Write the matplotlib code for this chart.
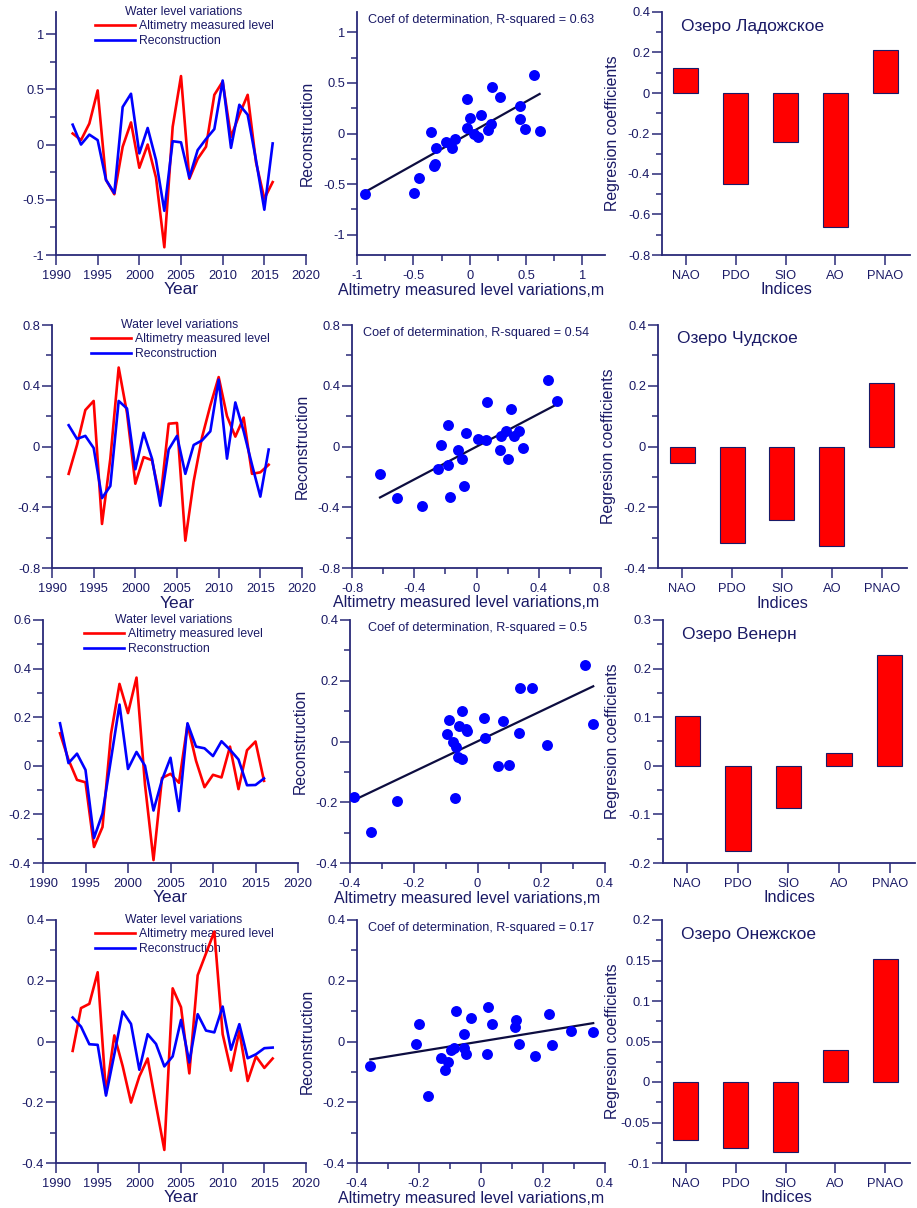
import matplotlib
matplotlib.use('Agg')
import matplotlib.pyplot as plt
from matplotlib.ticker import MultipleLocator, FuncFormatter
import numpy as np

plt.rcParams['font.family'] = ['Liberation Sans', 'DejaVu Sans']

# ---- data ----
years = list(range(1992, 2017))
indices = ['NAO', 'PDO', 'SIO', 'AO', 'PNAO']

lakes = ['Озеро Ладожское', 'Озеро Чудское', 'Озеро Венерн', 'Озеро Онежское']
r2_text = ['0.63', '0.54', '0.5', '0.17']

# altimetry measured level (red)
alt_ladoga = [0.10, 0.04, 0.19, 0.49, -0.32, -0.45, -0.02, 0.20, -0.21, 0.00, -0.30, -0.93, 0.16,
              0.62, -0.31, -0.13, -0.02, 0.45, 0.57, 0.07, 0.27, 0.45, -0.16, -0.49, -0.34]
alt_chud = [-0.18, 0.01, 0.24, 0.30, -0.51, -0.08, 0.52, 0.22, -0.245, -0.07, -0.09, -0.35, 0.15,
            0.155, -0.62, -0.23, 0.06, 0.27, 0.457, 0.20, 0.065, 0.19, -0.18, -0.17, -0.12]
alt_vanern = [0.134, 0.025, -0.058, -0.068, -0.334, -0.252, 0.131, 0.337, 0.217, 0.363, -0.078, -0.388, -0.05,
              -0.033, -0.07, 0.17, 0.021, -0.088, -0.037, -0.048, 0.079, -0.096, 0.064, 0.10, -0.062]
alt_onega = [-0.031, 0.11, 0.124, 0.228, -0.171, 0.02, -0.081, -0.201, -0.115, -0.056, -0.209, -0.357, 0.175,
             0.113, -0.105, 0.218, 0.29, 0.362, 0.024, -0.096, 0.035, -0.13, -0.049, -0.087, -0.056]

# reconstruction (blue)
rec_ladoga = [0.18, 0.00, 0.09, 0.04, -0.32, -0.44, 0.34, 0.46, -0.08, 0.15, -0.14, -0.60, 0.03,
              0.02, -0.30, -0.05, 0.05, 0.14, 0.58, -0.03, 0.36, 0.27, -0.14, -0.59, 0.01]
rec_chud = [0.14, 0.05, 0.07, -0.01, -0.34, -0.26, 0.30, 0.25, -0.15, 0.09, -0.08, -0.39, -0.02,
            0.07, -0.18, 0.01, 0.04, 0.10, 0.44, -0.08, 0.29, 0.10, -0.12, -0.33, -0.02]
rec_vanern = [0.175, 0.011, 0.05, -0.017, -0.297, -0.196, 0.027, 0.252, -0.013, 0.057, 0.0, -0.184, -0.058,
              0.033, -0.186, 0.175, 0.079, 0.072, 0.04, 0.101, 0.066, 0.026, -0.08, -0.079, -0.052]
rec_onega = [0.079, 0.049, -0.009, -0.011, -0.178, -0.042, 0.099, 0.058, -0.093, 0.024, -0.008, -0.082, -0.049,
             0.071, -0.069, 0.09, 0.036, 0.03, 0.115, -0.027, 0.057, -0.055, -0.042, -0.022, -0.02]

# regression coefficients
coef_ladoga = [0.125, -0.447, -0.242, -0.661, 0.214]
coef_chud = [-0.053, -0.318, -0.243, -0.329, 0.21]
coef_vanern = [0.102, -0.176, -0.087, 0.026, 0.229]
coef_onega = [-0.072, -0.081, -0.086, 0.040, 0.152]

alt = [alt_ladoga, alt_chud, alt_vanern, alt_onega]
rec = [rec_ladoga, rec_chud, rec_vanern, rec_onega]
coefs = [coef_ladoga, coef_chud, coef_vanern, coef_onega]

# ---- layout (pixels) ----
W, H = 917, 1208
rows_tb = [(12, 255), (325, 568), (620, 863), (920, 1163)]
cols_lr = [[(56, 306), (357, 605), (662, 910)],
           [(52, 302), (352, 601), (658, 907)],
           [(43, 298), (350, 605), (663, 915)],
           [(56, 306), (357, 605), (662, 910)]]

line_ylim = [(-1, 1.2, 0.5, 0.25), (-0.8, 0.8, 0.4, 0.2), (-0.4, 0.6, 0.2, 0.1), (-0.4, 0.4, 0.2, 0.1)]
sc_lim = [((-1, 1.2), (-1.2, 1.2), 0.5, 0.25), ((-0.8, 0.8), (-0.8, 0.8), 0.4, 0.2),
          ((-0.4, 0.4), (-0.4, 0.4), 0.2, 0.1), ((-0.4, 0.4), (-0.4, 0.4), 0.2, 0.1)]
bar_ylim = [(-0.8, 0.4, 0.2, 0.1), (-0.4, 0.4, 0.2, 0.1), (-0.2, 0.3, 0.1, 0.05), (-0.1, 0.2, 0.05, 0.025)]

axis_col = '#2a2a78'
text_col = '#1a1a66'


def fmt(v, pos):
    v = round(v, 4)
    if v == 0:
        return '0'
    return '%g' % v


def style(ax, wpx, xlab_x=0.5):
    for s in ['top', 'right']:
        ax.spines[s].set_visible(False)
    for s in ['left', 'bottom']:
        ax.spines[s].set_color(axis_col)
        ax.spines[s].set_linewidth(1.3)
    ax.tick_params(which='both', direction='out', colors=axis_col, labelcolor=text_col, labelsize=9.3, width=1.1)
    ax.tick_params(which='major', length=7)
    ax.tick_params(which='minor', length=4)
    ax.tick_params(axis='x', pad=4)
    ax.tick_params(axis='y', pad=1.5)
    ax.xaxis.set_label_coords(xlab_x, -35 / 243)
    ax.xaxis.label.set_va('center')
    ax.yaxis.set_label_coords(-50 / wpx, 0.5)
    ax.yaxis.label.set_va('center')
    ax.xaxis.label.set_color(text_col)
    ax.yaxis.label.set_color(text_col)


fig = plt.figure(figsize=(W / 100, H / 100), dpi=100)

for i in range(4):
    t, b = rows_tb[i]
    axes = []
    for (l, r) in cols_lr[i]:
        axes.append(fig.add_axes([l / W, 1 - b / H, (r - l) / W, (b - t) / H]))
    ax1, ax2, ax3 = axes

    # --- time series ---
    l1, = ax1.plot(years, alt[i], color='#ff0000', lw=1.9, zorder=3)
    l2, = ax1.plot(years, rec[i], color='#0000ff', lw=1.9, zorder=3)
    lo, hi, mj, mn = line_ylim[i]
    ax1.set_xlim(1990, 2020)
    ax1.set_ylim(lo, hi)
    ax1.xaxis.set_major_locator(MultipleLocator(5))
    ax1.yaxis.set_major_locator(MultipleLocator(mj))
    ax1.yaxis.set_minor_locator(MultipleLocator(mn))
    ax1.yaxis.set_major_formatter(FuncFormatter(fmt))
    ax1.set_xlabel('Year', fontsize=12.5)
    style(ax1, cols_lr[i][0][1] - cols_lr[i][0][0])
    leg = ax1.legend([l1, l2], ['Altimetry measured level', 'Reconstruction'],
                     title='Water level variations', loc='upper center',
                     bbox_to_anchor=(0.512, 1 + 6 / 243), frameon=False, fontsize=8.8,
                     title_fontsize=8.8, handlelength=3.3, handletextpad=0.3,
                     labelspacing=0.2, borderpad=0, borderaxespad=0)
    leg.get_title().set_color(text_col)
    for tx in leg.get_texts():
        tx.set_color(text_col)
    leg.set_zorder(1)

    # --- scatter ---
    x = np.array(alt[i])
    y = np.array(rec[i])
    k, c = np.polyfit(x, y, 1)
    xx = np.array([x.min(), x.max()])
    ax2.plot(xx, k * xx + c, color='#0d0d40', lw=1.6, zorder=2)
    ax2.scatter(x, y, s=62, color='#0000ff', zorder=3, linewidths=0)
    xl, yl, mj, mn = sc_lim[i]
    ax2.set_xlim(*xl)
    ax2.set_ylim(*yl)
    for a in [ax2.xaxis, ax2.yaxis]:
        a.set_major_locator(MultipleLocator(mj))
        a.set_minor_locator(MultipleLocator(mn))
        a.set_major_formatter(FuncFormatter(fmt))
    ax2.set_xlabel('Altimetry measured level variations,m', fontsize=11.5)
    ax2.set_ylabel('Reconstruction', fontsize=11.3)
    ax2.text(0.5, 1 - 8 / 243, 'Coef of determination, R-squared = ' + r2_text[i],
             transform=ax2.transAxes, ha='center', va='center', fontsize=9.1, color=text_col)
    style(ax2, cols_lr[i][1][1] - cols_lr[i][1][0], xlab_x=0.46)

    # --- regression coefficients ---
    pos = np.arange(1, 6)
    ax3.bar(pos, coefs[i], width=0.5, color='#ff0000', edgecolor=text_col, linewidth=0.8, zorder=2)
    lo, hi, mj, mn = bar_ylim[i]
    ax3.set_ylim(lo, hi)
    ax3.set_xlim(0.52, 5.5)
    ax3.set_xticks(pos)
    ax3.set_xticklabels(indices)
    ax3.yaxis.set_major_locator(MultipleLocator(mj))
    ax3.yaxis.set_minor_locator(MultipleLocator(mn))
    ax3.yaxis.set_major_formatter(FuncFormatter(fmt))
    ax3.set_xlabel('Indices', fontsize=11.8)
    ax3.set_ylabel('Regresion coefficients', fontsize=11.4)
    ax3.text(0.077, 1 - 14 / 243, lakes[i], transform=ax3.transAxes, ha='left', va='center',
             fontsize=12.5, color=text_col)
    style(ax3, cols_lr[i][2][1] - cols_lr[i][2][0])

fig.savefig('out.png', dpi=100)
